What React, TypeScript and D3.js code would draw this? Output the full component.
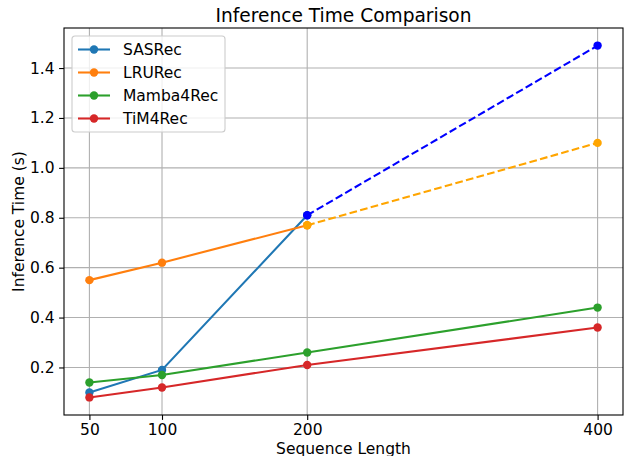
import React, { useRef, useEffect } from 'react';
import * as d3 from 'd3';

const seqLengths = [50, 100, 200, 400];
const sasrec = [0.10, 0.19, 0.81, 1.49];
const lrurec = [0.55, 0.62, 0.77, 1.10];
const mamba4rec = [0.14, 0.17, 0.26, 0.44];
const tim4rec = [0.08, 0.12, 0.21, 0.36];
const yTicks = [0.2, 0.4, 0.6, 0.8, 1.0, 1.2, 1.4];

interface Series {
  name: string;
  values: number[];
  color: string;
}

// solid part covers the first three lengths, the 200 -> 400 step is drawn dashed for two of them
const solidSeries: Series[] = [
  { name: 'SASRec', values: sasrec.slice(0, 3), color: '#1f77b4' },
  { name: 'LRURec', values: lrurec.slice(0, 3), color: '#ff7f0e' },
  { name: 'Mamba4Rec', values: mamba4rec, color: '#2ca02c' },
  { name: 'TiM4Rec', values: tim4rec, color: '#d62728' },
];

const dashedSeries = [
  { x: seqLengths.slice(2), values: sasrec.slice(2), color: 'blue' },
  { x: seqLengths.slice(2), values: lrurec.slice(2), color: 'orange' },
];

const W = 626;
const H = 456;
const margin = { left: 64, right: 3, top: 28, bottom: 41 };
const FONT = 'DejaVu Sans, sans-serif';
const FS = '15.5px';

const App: React.FC = () => {
  const svgRef = useRef<SVGSVGElement>(null);

  useEffect(() => {
    if (!svgRef.current) return;
    const svg = d3.select(svgRef.current);
    svg.selectAll('*').remove();

    const x0 = margin.left;
    const x1 = W - margin.right;
    const y0 = H - margin.bottom;
    const y1 = margin.top;

    const x = d3.scaleLinear().domain([32.5, 417.5]).range([x0, x1]);
    const y = d3.scaleLinear().domain([0.0095, 1.5605]).range([y0, y1]);

    svg.append('rect').attr('width', W).attr('height', H).attr('fill', 'white');

    // grid
    const grid = svg.append('g');
    grid.selectAll('.gx')
      .data(seqLengths)
      .enter()
      .append('line')
      .attr('x1', d => x(d)).attr('x2', d => x(d))
      .attr('y1', y0).attr('y2', y1)
      .attr('stroke', '#b0b0b0').attr('stroke-width', 1.1);
    grid.selectAll('.gy')
      .data(yTicks)
      .enter()
      .append('line')
      .attr('x1', x0).attr('x2', x1)
      .attr('y1', d => y(d)).attr('y2', d => y(d))
      .attr('stroke', '#b0b0b0').attr('stroke-width', 1.1);

    // axes
    const xAxis = svg.append('g')
      .attr('transform', `translate(0,${y0})`)
      .call(d3.axisBottom(x).tickValues(seqLengths).tickSize(4.9).tickPadding(4.5).tickFormat(d3.format('d')));
    const yAxis = svg.append('g')
      .attr('transform', `translate(${x0},0)`)
      .call(d3.axisLeft(y).tickValues(yTicks).tickSize(4.9).tickPadding(4.5).tickFormat(d3.format('.1f')));
    [xAxis, yAxis].forEach(a => {
      a.select('.domain').remove();
      a.selectAll('line').attr('stroke', 'black').attr('stroke-width', 1.1);
      a.selectAll('text')
        .attr('fill', 'black')
        .style('font-family', FONT)
        .style('font-size', FS);
    });

    const line = d3.line<[number, number]>()
      .x(d => x(d[0]))
      .y(d => y(d[1]));

    const plot = svg.append('g');

    solidSeries.forEach(s => {
      const pts: [number, number][] = s.values.map((v, i) => [seqLengths[i], v]);
      plot.append('path')
        .attr('d', line(pts))
        .attr('fill', 'none')
        .attr('stroke', s.color)
        .attr('stroke-width', 2.08);
      plot.selectAll(null)
        .data(pts)
        .enter()
        .append('circle')
        .attr('cx', d => x(d[0]))
        .attr('cy', d => y(d[1]))
        .attr('r', 4.2)
        .attr('fill', s.color);
    });

    dashedSeries.forEach(s => {
      const pts: [number, number][] = s.values.map((v, i) => [s.x[i], v]);
      plot.append('path')
        .attr('d', line(pts))
        .attr('fill', 'none')
        .attr('stroke', s.color)
        .attr('stroke-width', 2.08)
        .attr('stroke-dasharray', '7.7,3.3');
      plot.selectAll(null)
        .data(pts)
        .enter()
        .append('circle')
        .attr('cx', d => x(d[0]))
        .attr('cy', d => y(d[1]))
        .attr('r', 4.2)
        .attr('fill', s.color);
    });

    // frame
    svg.append('rect')
      .attr('x', x0).attr('y', y1)
      .attr('width', x1 - x0).attr('height', y0 - y1)
      .attr('fill', 'none')
      .attr('stroke', 'black')
      .attr('stroke-width', 1.1);

    // legend
    const legend = svg.append('g').attr('transform', 'translate(72,36)');
    legend.append('rect')
      .attr('width', 153).attr('height', 96)
      .attr('rx', 3)
      .attr('fill', 'white').attr('fill-opacity', 0.8)
      .attr('stroke', '#cccccc').attr('stroke-width', 1.1);
    const items = legend.selectAll('.legend-item')
      .data(solidSeries)
      .enter()
      .append('g')
      .attr('transform', (d, i) => `translate(0,${13.5 + i * 23})`);
    items.append('line')
      .attr('x1', 6).attr('x2', 38)
      .attr('stroke', d => d.color).attr('stroke-width', 2.08);
    items.append('circle')
      .attr('cx', 22).attr('r', 4.2)
      .attr('fill', d => d.color);
    items.append('text')
      .attr('x', 51).attr('dy', '0.35em')
      .style('font-family', FONT)
      .style('font-size', FS)
      .attr('fill', 'black')
      .text(d => d.name);

    // labels
    svg.append('text')
      .attr('x', (x0 + x1) / 2).attr('y', 22)
      .attr('text-anchor', 'middle')
      .style('font-family', FONT)
      .style('font-size', '18.6px')
      .text('Inference Time Comparison');
    svg.append('text')
      .attr('x', (x0 + x1) / 2).attr('y', 453.5)
      .attr('text-anchor', 'middle')
      .style('font-family', FONT)
      .style('font-size', FS)
      .text('Sequence Length');
    svg.append('text')
      .attr('transform', `translate(23.5,${(y0 + y1) / 2}) rotate(-90)`)
      .attr('text-anchor', 'middle')
      .style('font-family', FONT)
      .style('font-size', FS)
      .text('Inference Time (s)');
  }, []);

  return (
    <svg
      ref={svgRef}
      width={W}
      height={H}
      style={{ position: 'absolute', left: 0, top: 0 }}
      viewBox={`0 0 ${W} ${H}`}
    />
  );
};

export default App;
